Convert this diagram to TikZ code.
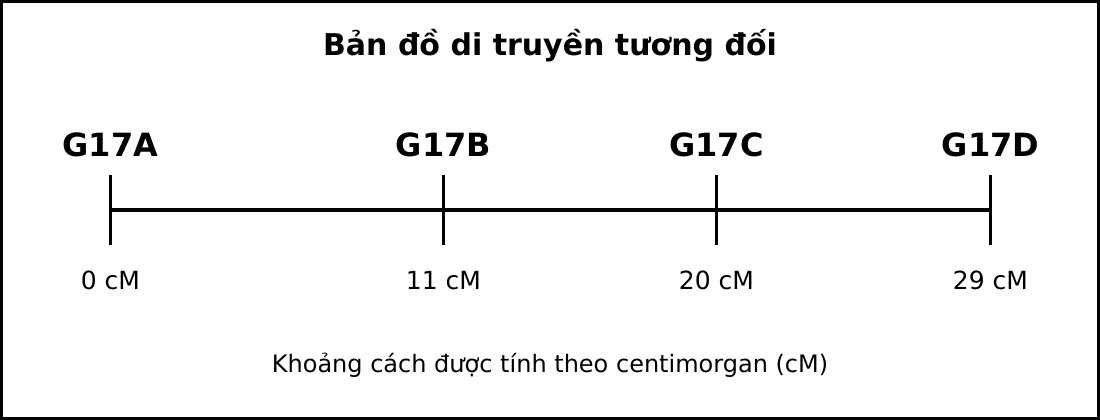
\documentclass[tikz,border=0pt]{standalone}
\usepackage{fontspec}
\setmainfont{DejaVu Sans}
\begin{document}
\begin{tikzpicture}[x=1pt,y=-1pt,
  titletext/.style={font=\bfseries\fontsize{30}{36}\selectfont},
  genelabel/.style={font=\bfseries\fontsize{32}{38}\selectfont, anchor=base},
  poslabel/.style={font=\fontsize{25}{30}\selectfont, anchor=base},
  notetext/.style={font=\fontsize{24}{29}\selectfont},
  tickline/.style={line width=3.5pt},
  axisline/.style={line width=4pt}]
\useasboundingbox (0,0) rectangle (1100,420);
\draw[line width=3pt] (1.5,1.5) rectangle (1098.5,418.5);
\node[titletext] (t) at (550,46) {Bản đồ di truyền tương đối};
\foreach \n/\x/\l/\d in {a/110.5/A/0, b/443.5/B/11, c/716.5/C/20, d/990.5/D/29} {
  \coordinate (\n top) at (\x,175);
  \coordinate (\n bot) at (\x,245);
  \coordinate (\n mid) at (\x,210);
  \node[genelabel] (\n lab) at (\x,156) {G17\l};
  \node[poslabel] (\n pos) at (\x,289) {\d\ cM};
  \draw[tickline] (\n top) -- (\n bot);
}
\draw[axisline] (amid) -- (dmid);
\node[notetext] (n) at (550,365) {Khoảng cách được tính theo centimorgan (cM)};
\end{tikzpicture}
\end{document}
